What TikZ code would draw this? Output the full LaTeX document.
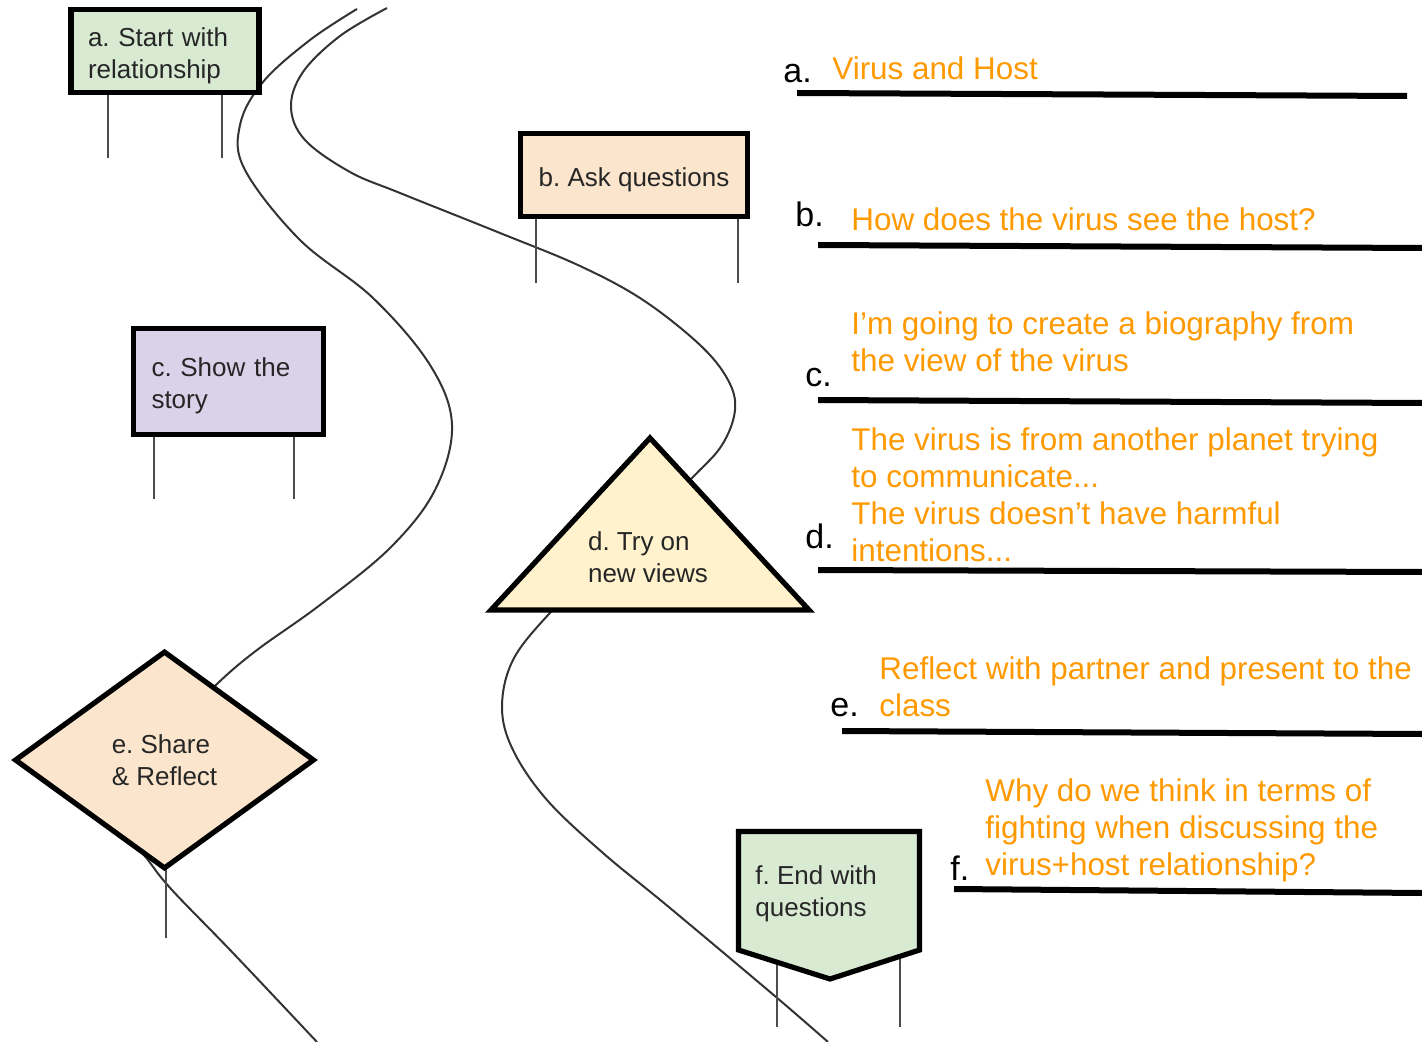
\documentclass[tikz,border=0pt]{standalone}
\usepackage{fontspec}
\setmainfont{Liberation Sans}
\usepackage{xcolor}
\usepackage{tikz}
\usetikzlibrary{shapes, positioning, calc}

\definecolor{signgreen}{HTML}{D9EAD3}
\definecolor{signpeach}{HTML}{FCE5CD}
\definecolor{signlilac}{HTML}{D9D2E9}
\definecolor{signcream}{HTML}{FFF2CC}
\definecolor{answerorange}{HTML}{FF9900}
\newcommand{\signstrut}{\rule{0pt}{14pt}}
\frenchspacing

\begin{document}
\begin{tikzpicture}[x=0.5pt, y=-0.5pt]
    \tikzstyle{road}=[draw=black!80, line width=1pt]
    \tikzstyle{leg}=[draw=black!70, line width=1pt]
    \tikzstyle{signtext}=[text=black!85, font=\fontsize{13pt}{16pt}\selectfont, inner sep=0pt, align=left]
    \tikzstyle{sign}=[signtext, draw=black, line width=2.6pt]
    \tikzstyle{board}=[sign, rectangle, text width=77pt, inner xsep=8.5pt, minimum height=41.5pt]
    \tikzstyle{letter}=[anchor=base west, inner sep=0pt, font=\fontsize{17pt}{20pt}\selectfont]
    \tikzstyle{answer}=[anchor=base west, inner sep=0pt, align=left, text=answerorange, font=\fontsize{15.7pt}{18.5pt}\selectfont]
    \tikzstyle{answerline}=[draw=black, line width=3pt]
    \useasboundingbox (0,0) rectangle (1422,1042);

    \draw[road] plot[smooth, tension=0.6] coordinates {(357,9) (310,40) (263,82) (240,125) (245,170) (300,240) (373,298) (430,365) (452,425) (435,490) (390,548) (320,605) (257,650) (218,683) (175,727) (130,785) (120,822) (148,860) (172,890) (233,953) (317,1042)};
    \draw[road] plot[smooth, tension=0.6] coordinates {(387,8) (340,36) (303,72) (291,107) (305,140) (350,172) (400,193) (500,233) (580,266) (643,300) (700,345) (728,380) (735,410) (722,445) (693,477) (640,530) (590,575) (548,615) (513,660) (502,707) (513,750) (547,800) (603,853) (670,908) (776,997) (828,1042)};

    \node[board, fill=signgreen] (siga) at (165,51) {\signstrut a. Start with\\relationship};
    \node[sign, rectangle, fill=signpeach, minimum width=113.5pt, minimum height=41.5pt] (signb) at (634,175) {\signstrut b. Ask questions};
    \node[board, fill=signlilac, minimum height=53pt, inner xsep=9pt] (signc) at (228.5,381.5) {\signstrut c. Show the\\story};

    \coordinate (alegl) at (108,158);
    \coordinate (alegr) at (222,158);
    \coordinate (blegl) at (536,283);
    \coordinate (blegr) at (738,283);
    \coordinate (clegl) at (154,499);
    \coordinate (clegr) at (294,499);
    \coordinate (elegm) at (166,938);
    \coordinate (flegl) at (777,1027);
    \coordinate (flegr) at (900,1027);
    \coordinate (ftl) at (738.5,831.5);
    \coordinate (ftr) at (919.5,831.5);
    \coordinate (fbr) at (919.5,950);
    \coordinate (ftip) at (830,979);
    \coordinate (fbl) at (738.5,950);
    \coordinate (dtop) at (650,438);
    \coordinate (dleft) at (491,610);
    \coordinate (dright) at (809,610);

    \draw[leg] (alegl |- siga.south) -- (alegl);
    \draw[leg] (alegr |- siga.south) -- (alegr);
    \draw[leg] (blegl |- signb.south) -- (blegl);
    \draw[leg] (blegr |- signb.south) -- (blegr);
    \draw[leg] (clegl |- signc.south) -- (clegl);
    \draw[leg] (clegr |- signc.south) -- (clegr);
    \draw[leg] (elegm |- 0,860) -- (elegm);
    \draw[leg] (flegl |- fbl) -- (flegl);
    \draw[leg] (flegr |- fbr) -- (flegr);

    \draw[sign, fill=signcream] (dtop) -- (dright) -- (dleft) -- cycle;
    \node[signtext] (signd) at (648,557) {d. Try on\\new views};
    \node[sign, diamond, fill=signpeach, minimum width=150pt, minimum height=109pt] (signe) at (164.5,760) {e. Share\\\& Reflect};
    \draw[sign, fill=signgreen] (ftl) -- (ftr) -- (fbr) -- (ftip) -- (fbl) -- cycle;
    \node[signtext, anchor=west] (signf) at (755,894) {f. End with\\questions};

    \node[letter] (la) at (783,83) {a.};
    \node[answer] (aa) at (832,80) {Virus and Host};
    \node[letter] (lb) at (795,227) {b.};
    \node[answer] (ab) at (851,231) {How does the virus see the host?};
    \node[letter] (lc) at (805,387) {c.};
    \node[answer] (ac) at (851,372) {I’m going to create a biography from\\the view of the virus};
    \node[letter] (ld) at (805,548) {d.};
    \node[answer] (ad) at (851,561) {The virus is from another planet trying\\to communicate...\\The virus doesn’t have harmful\\intentions...};
    \node[letter] (le) at (830,716) {e.};
    \node[answer] (ae) at (879,716) {Reflect with partner and present to the\\class};
    \node[letter] (lf) at (950,880) {f.};
    \node[answer] (af) at (985,875) {Why do we think in terms of\\fighting when discussing the\\virus+host relationship?};

    \coordinate (ua1) at (797,93);   \coordinate (ua2) at (1407,96);
    \coordinate (ub1) at (818,245);  \coordinate (ub2) at (1422,248);
    \coordinate (uc1) at (818,400);  \coordinate (uc2) at (1422,403);
    \coordinate (ud1) at (818,570);  \coordinate (ud2) at (1422,572);
    \coordinate (ue1) at (842,731);  \coordinate (ue2) at (1422,734);
    \coordinate (uf1) at (954,889);  \coordinate (uf2) at (1422,893);
    \draw[answerline] (ua1) -- (ua2);
    \draw[answerline] (ub1) -- (ub2);
    \draw[answerline] (uc1) -- (uc2);
    \draw[answerline] (ud1) -- (ud2);
    \draw[answerline] (ue1) -- (ue2);
    \draw[answerline] (uf1) -- (uf2);
\end{tikzpicture}
\end{document}
